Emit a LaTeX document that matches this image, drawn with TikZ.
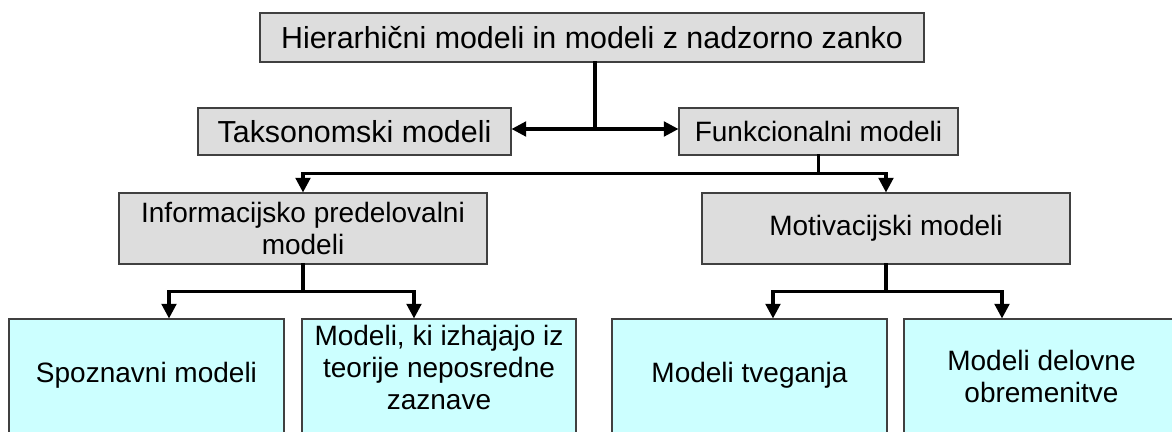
\documentclass[tikz,border=0pt]{standalone}
\usepackage{fontspec}
\setmainfont{Liberation Sans}
\usetikzlibrary{arrows.meta,calc}
\definecolor{boxgrey}{HTML}{DDDDDD}
\definecolor{boxcyan}{HTML}{CCFFFF}
\definecolor{edgegrey}{HTML}{404040}
\begin{document}
\begin{tikzpicture}[x=0.75pt,y=-0.75pt,
  bigtext/.style={font=\fontsize{22.8pt}{24pt}\selectfont},
  smalltext/.style={font=\fontsize{21pt}{24pt}\selectfont, align=center},
  greybox/.style={draw=edgegrey, line width=0.8pt, fill=boxgrey, inner sep=0pt},
  cyanbox/.style={draw=edgegrey, line width=0.8pt, fill=boxcyan, inner sep=0pt,
    minimum height=94.5pt},
  conn/.style={line width=2.4pt, line cap=rect},
  arr/.style={conn, -{Triangle[length=11pt,width=11pt]}}]
\clip (0,0) rectangle (1172,432);

% upper level
\node[greybox, bigtext, minimum width=498pt, minimum height=36.75pt]
  (top) at (592,37.5) {Hierarhični modeli in modeli z nadzorno zanko};
\node[greybox, bigtext, minimum width=234.75pt, minimum height=35.25pt]
  (takso) at (354.5,131.5) {Taksonomski modeli};
\node[greybox, smalltext, minimum width=209.25pt, minimum height=35.25pt]
  (funk) at (818.5,131.5) {Funkcionalni modeli};

% middle level
\node[greybox, smalltext, minimum width=276pt, minimum height=53.25pt]
  (info) at (303,228.5) {Informacijsko predelovalni\\modeli};
\node[greybox, smalltext, minimum width=276pt, minimum height=53.25pt]
  (motiv) at (886,228.5) {Motivacijski modeli};

% lower level boxes
\node[cyanbox, minimum width=206.25pt] (spo) at (146.5,382) {};
\node[cyanbox, minimum width=205.5pt] (mki) at (439,382) {};
\node[cyanbox, minimum width=206.25pt] (tveg) at (749.5,382) {};
\node[cyanbox, minimum width=206.25pt] (del) at (1041.5,382) {};

\node[smalltext] (spoT) at (146.5,375) {Spoznavni modeli};
\node[smalltext] (mkiT) at (439,367) {Modeli, ki izhajajo iz\\teorije neposredne\\zaznave};
\node[smalltext] (tvegT) at (749.5,375) {Modeli tveganja};
\node[smalltext] (delT) at (1041.5,376) {Modeli delovne\\obremenitve};

% connectors
\coordinate (j1) at (595,129);
\draw[conn] (top.south -| j1) -- (j1);
\draw[arr] (j1) -- (takso.east |- j1);
\draw[arr] (j1) -- (funk.west |- j1);

\coordinate (j2) at ($(funk.south)+(0,18)$);
\draw[conn] (funk.south) -- (j2);
\draw[arr] (j2) -| (info.north);
\draw[arr] (j2) -| (motiv.north);

\coordinate (j3) at ($(info.south)+(0,27)$);
\draw[conn] (info.south) -- (j3);
\draw[arr] (j3) -| ($(spo.north)+(22.5,0)$);
\draw[arr] (j3) -| ($(mki.north)+(-25,0)$);

\coordinate (j4) at ($(motiv.south)+(0,27)$);
\draw[conn] (motiv.south) -- (j4);
\draw[arr] (j4) -| ($(tveg.north)+(23.5,0)$);
\draw[arr] (j4) -| ($(del.north)+(-39.5,0)$);
\end{tikzpicture}
\end{document}
